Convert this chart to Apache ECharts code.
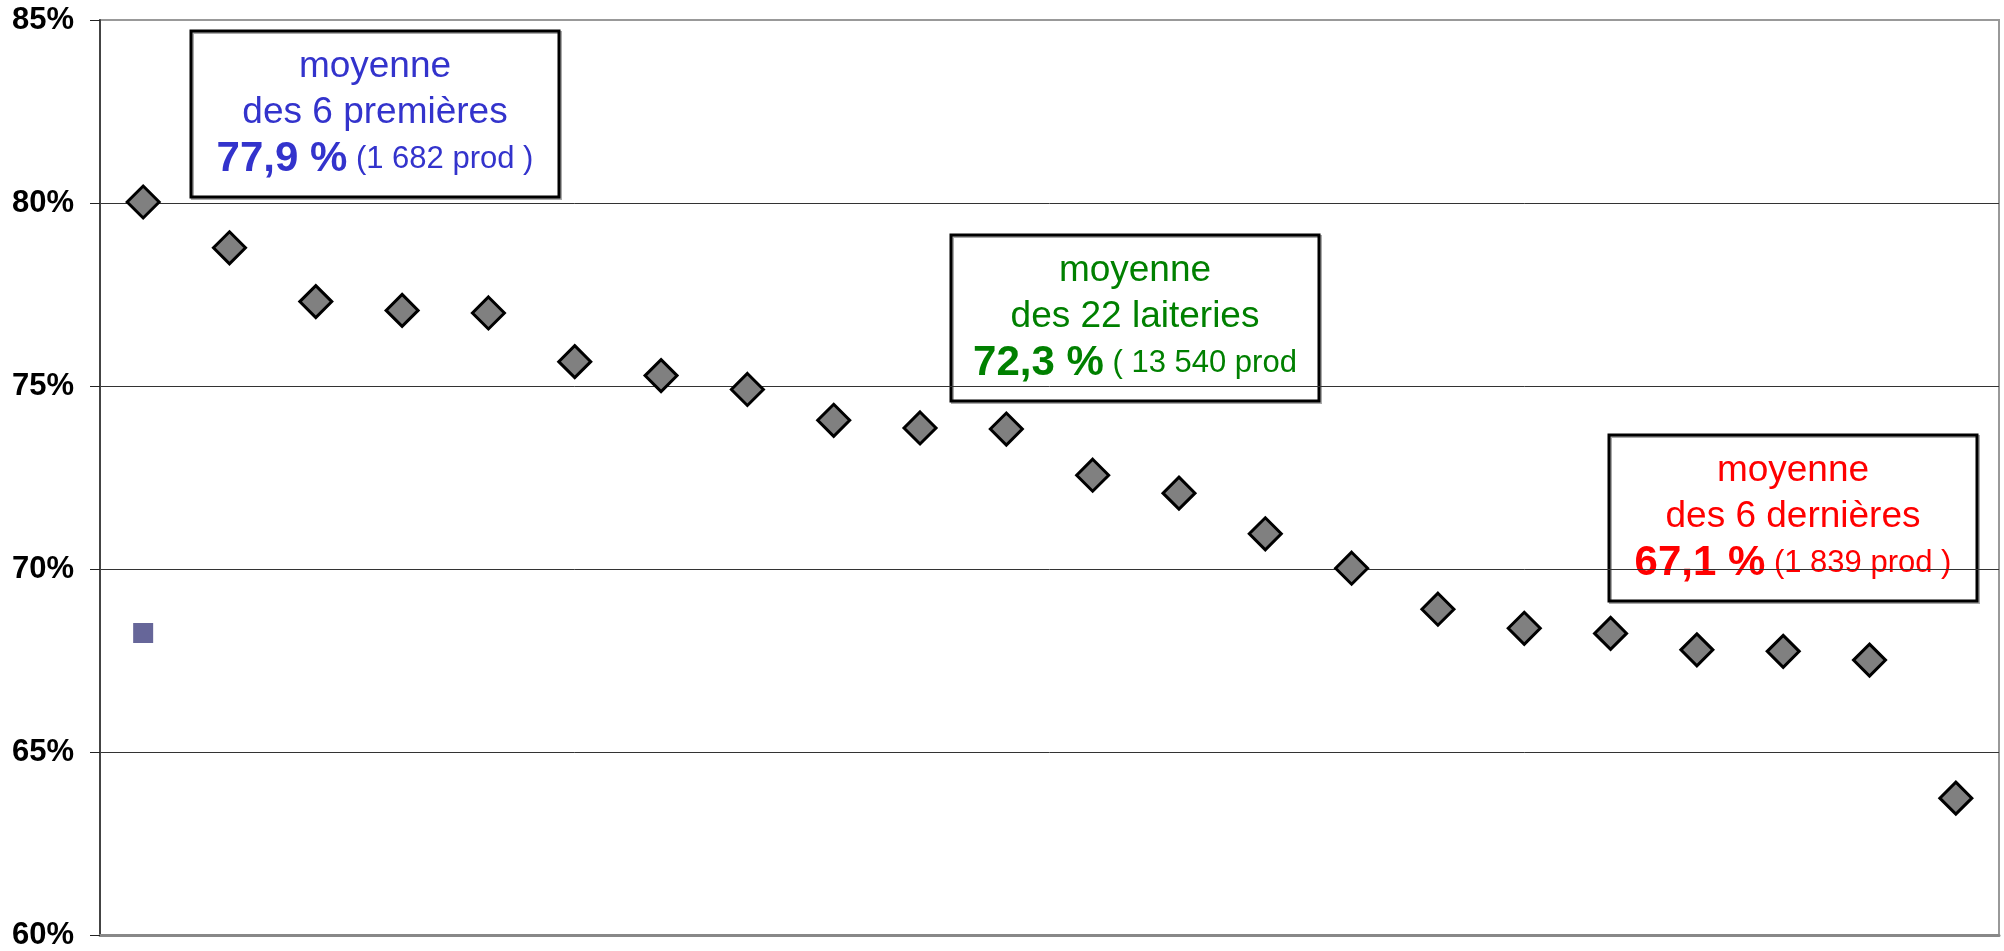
<!DOCTYPE html>
<html>
<head>
<meta charset="UTF-8">
<title>Taux par laiterie</title>
<style>
  html, body { margin: 0; padding: 0; background: #fff; }
  #charts { width: 2004px; height: 951px; }
</style>
</head>
<body>
<div id="charts"></div>
<script src="https://cdn.jsdelivr.net/npm/echarts@6/dist/echarts.min.js"></script>
<script>
// 22 laiteries, classées par taux décroissant
var laiteries = ['1', '2', '3', '4', '5', '6', '7', '8', '9', '10', '11',
                 '12', '13', '14', '15', '16', '17', '18', '19', '20', '21', '22'];
var taux = [80.03, 78.78, 77.31, 77.07, 77.0, 75.67, 75.29, 74.91, 74.07, 73.86, 73.83,
            72.57, 72.08, 70.97, 70.03, 68.91, 68.39, 68.25, 67.80, 67.76, 67.52, 63.75];
// petit carré bleu isolé sur la première catégorie
var repere = [68.26];

// axe des y (en %)
var yMin = 60, yMax = 85, yPas = 5;

// encadrés de moyenne
var moyennes = [
  { l1: 'moyenne', l2: 'des 6 premières', val: '77,9 %', prod: '(1 682 prod )', color: '#3333cc' },
  { l1: 'moyenne', l2: 'des 22 laiteries', val: '72,3 %', prod: '( 13 540 prod', color: '#008000' },
  { l1: 'moyenne', l2: 'des 6 dernières', val: '67,1 %', prod: '(1 839 prod )', color: '#ff0000' }
];
// position des encadrés (px)
var boites = [
  { x: 191, y: 31 },
  { x: 951, y: 235 },
  { x: 1609, y: 435 }
];

var police = '"Liberation Sans", Arial, sans-serif';
var mycharts = echarts.init(document.getElementById('charts'));

// construire les encadrés
var graphics = moyennes.map(function (m, i) {
  var b = boites[i];
  return {
    type: 'group',
    x: b.x, y: b.y,
    z: 100,
    children: [
      {
        type: 'rect',
        shape: { x: 0, y: 0, width: 368, height: 166 },
        style: { fill: '#fff', stroke: '#000', lineWidth: 3,
                 shadowColor: '#aaa', shadowOffsetX: 1.5, shadowOffsetY: 1.5, shadowBlur: 0 }
      },
      {
        type: 'text',
        x: 184, y: 82,
        style: {
          text: '{n|' + m.l1 + '}\n{n|' + m.l2 + '}\n{b|' + m.val + '}{s| ' + m.prod + '}',
          align: 'center',
          verticalAlign: 'middle',
          fill: m.color,
          rich: {
            n: { fontFamily: police, fontSize: 37, lineHeight: 46, fill: m.color },
            b: { fontFamily: police, fontSize: 42, fontWeight: 'bold', lineHeight: 46, fill: m.color },
            s: { fontFamily: police, fontSize: 31, lineHeight: 46, fill: m.color }
          }
        }
      }
    ]
  };
});

option = {
  backgroundColor: '#fff',
  animation: false,
  grid: {
    left: 100, right: 5, top: 20, bottom: 15,
    show: true,
    borderColor: '#999',
    borderWidth: 2,
    containLabel: false
  },
  xAxis: {
    type: 'category',
    data: laiteries,
    boundaryGap: true,
    axisLine: { show: true, lineStyle: { color: '#888', width: 3 } },
    axisTick: { show: false },
    axisLabel: { show: false },
    splitLine: { show: false }
  },
  yAxis: {
    type: 'value',
    min: yMin, max: yMax, interval: yPas,
    axisLine: { show: true, lineStyle: { color: '#444', width: 2 } },
    axisTick: { show: true, length: 10, lineStyle: { color: '#222', width: 1 } },
    axisLabel: {
      formatter: '{value}%',
      fontFamily: police, fontSize: 31, fontWeight: 'bold', color: '#000',
      margin: 26
    },
    splitLine: { show: true, showMinLine: false, showMaxLine: false,
                 lineStyle: { color: '#333', width: 1 } }
  },
  series: [
    {
      name: 'taux',
      type: 'scatter',
      data: taux,
      symbol: 'diamond',
      symbolSize: 32,
      itemStyle: { color: '#808080', borderColor: '#000', borderWidth: 3, opacity: 1 },
      z: 5
    },
    {
      name: 'repere',
      type: 'scatter',
      data: repere,
      symbol: 'rect',
      symbolSize: 20,
      itemStyle: { color: '#666699', opacity: 1 },
      z: 4
    }
  ],
  graphic: graphics
};
mycharts.setOption(option);
</script>
</body>
</html>
